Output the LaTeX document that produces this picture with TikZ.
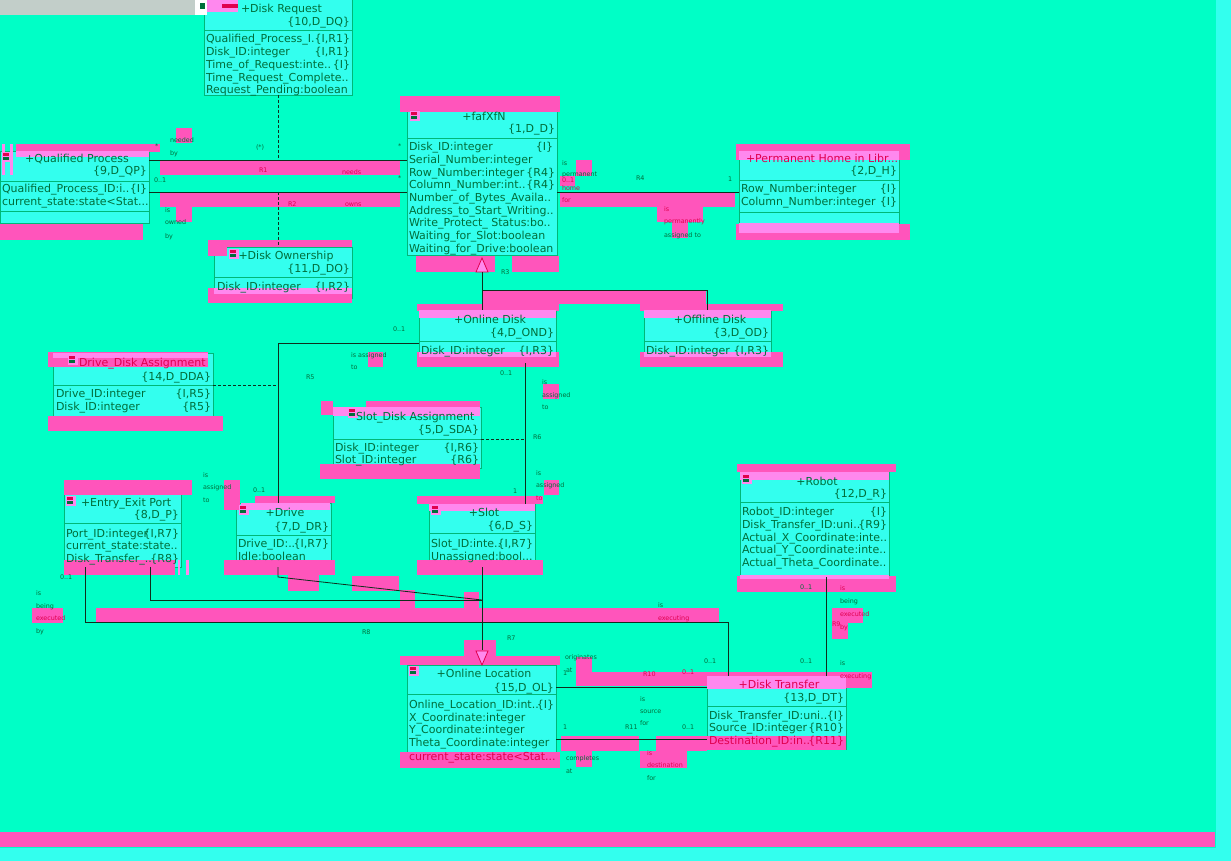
\documentclass[tikz,border=0pt]{standalone}
\usepackage{fontspec}
\setmainfont{DejaVu Sans}
\usetikzlibrary{calc}
\definecolor{bg}{HTML}{00FFC6}
\definecolor{cy}{HTML}{33FFEE}
\definecolor{pk}{HTML}{FF55BB}
\definecolor{lp}{HTML}{FF88EE}
\definecolor{tc}{HTML}{006E3A}
\definecolor{rd}{HTML}{E0004E}
\definecolor{bd}{HTML}{00B877}
\definecolor{ln}{HTML}{0F2E1C}
\definecolor{gr}{HTML}{C2CEC9}
\newcounter{lblc}
\tikzset{
 boxst/.style={draw=bd, fill=cy, line width=0.8pt, inner sep=0pt, outer sep=0pt, anchor=north west},
 sepst/.style={draw=bd, line width=0.8pt},
 attr/.style={inner sep=0pt, outer sep=0pt, text=tc, font=\fontsize{11}{13}\selectfont},
 small/.style={inner sep=0pt, outer sep=0pt, text=tc, font=\fontsize{6.4}{7}\selectfont, anchor=base west},
 conn/.style={draw=ln, line width=0.8pt},
 dsh/.style={draw=ln, line width=0.8pt, dash pattern=on 3pt off 2pt},
 tri/.style={draw=rd, fill=lp, line width=0.8pt},
}
\newcommand\pkr[4]{\fill[pk] (#1,#2) rectangle (#3,#4);}
\newcommand\lpr[4]{\fill[lp] (#1,#2) rectangle (#3,#4);}
\newcommand\umlbox[5]{\node[boxst, minimum width={#4-#2}, minimum height={#5-#3}] (#1) at (#2,#3) {};}
\newcommand\sepl[3]{\draw[sepst] (#1,#3) -- (#2,#3);}
\newcommand\txl[4][tc]{\stepcounter{lblc}\node[attr, anchor=base west, text=#1] (t\arabic{lblc}) at (#2,#3+4) {#4};}
\newcommand\txr[4][tc]{\stepcounter{lblc}\node[attr, anchor=base east, text=#1] (t\arabic{lblc}) at (#2,#3+4) {#4};}
\newcommand\txc[4][tc]{\stepcounter{lblc}\node[attr, anchor=base, text=#1] (t\arabic{lblc}) at (#2,#3+4) {#4};}
\newcommand\tsm[4][tc]{\stepcounter{lblc}\node[small, text=#1] (s\arabic{lblc}) at (#2,#3+2.5) {#4};}
\newcommand\icn[2]{\fill[lp] (#1,#2) rectangle ++(10,10); \fill[rd] (#1+1,#2+1) rectangle ++(6,3); \fill[tc] (#1+1,#2+5) rectangle ++(6,3);}
\begin{document}
\begin{tikzpicture}[x=1pt,y=-1pt]
\useasboundingbox (0,0) rectangle (1231,861);
% background
\fill[cy] (0,0) rectangle (1231,861);
\fill[bg] (0,0) rectangle (1216,848);
\fill[pk] (0,832) rectangle (1215,847);
\fill[gr] (0,0) rectangle (195,15);
% boxes
\umlbox{dq}{204}{-2}{352}{95}
\umlbox{qp}{0}{151}{149}{223}
\umlbox{dk}{407}{107}{557}{255}
\umlbox{ph}{739}{151}{899}{234}
\umlbox{dow}{214}{247}{352}{298}
\umlbox{ond}{419}{310}{556}{363}
\umlbox{ofd}{644}{310}{771}{363}
\umlbox{dda}{53}{353}{213}{416}
\umlbox{sda}{333}{407}{481}{468}
\umlbox{eep}{64}{493}{181}{567}
\umlbox{drv}{236}{503}{331}{567}
\umlbox{slt}{429}{504}{535}{567}
\umlbox{rob}{740}{472}{889}{577}
\umlbox{ol}{407}{665}{556}{763}
\umlbox{dt}{707}{676}{846}{749}
% separators
\sepl{204}{352}{30}
\sepl{0}{149}{181}\sepl{0}{149}{211}
\sepl{407}{557}{138}
\sepl{739}{899}{180}\sepl{739}{899}{212}
\sepl{214}{352}{277}
\sepl{419}{556}{341}
\sepl{644}{771}{341}
\sepl{53}{213}{385}
\sepl{333}{481}{439}
\sepl{64}{181}{523}
\sepl{236}{331}{535}
\sepl{429}{535}{533}
\sepl{740}{889}{502}
\sepl{407}{556}{694}
\sepl{707}{846}{706}
% pink artefacts
\pkr{16}{144}{160}{152}\lpr{16}{151}{149}{157}
\lpr{2}{144}{5}{175}\lpr{10}{144}{13}{175}
\pkr{0}{224}{143}{240}
\pkr{176}{128}{192}{143}
\pkr{160}{161}{400}{175}
\pkr{160}{193}{400}{207}
\pkr{176}{207}{192}{222}
\pkr{400}{96}{560}{112}
\pkr{416}{256}{495}{272}\pkr{512}{256}{559}{272}
\pkr{208}{240}{352}{247}\pkr{208}{247}{227}{256}
\pkr{208}{288}{352}{303}\lpr{214}{288}{352}{294}
\pkr{736}{144}{910}{160}\lpr{739}{151}{899}{160}
\pkr{736}{224}{910}{240}\lpr{739}{223}{899}{233}
\pkr{560}{193}{735}{207}\pkr{657}{207}{703}{222}\pkr{672}{222}{688}{238}
\pkr{576}{160}{592}{176}\pkr{560}{176}{575}{186}
\pkr{482}{290}{706}{304}
\pkr{417}{304}{559}{311}\lpr{419}{310}{556}{318}
\pkr{417}{352}{559}{367}\lpr{419}{352}{556}{357}
\pkr{640}{304}{783}{311}\lpr{644}{310}{771}{318}
\pkr{640}{352}{783}{367}\lpr{644}{352}{771}{357}
\pkr{368}{352}{383}{367}
\pkr{48}{352}{208}{367}\lpr{53}{353}{208}{358}
\pkr{48}{416}{223}{431}
\pkr{543}{384}{559}{399}
\pkr{321}{401}{333}{415}\pkr{366}{401}{480}{407}\lpr{333}{407}{480}{416}
\pkr{320}{464}{480}{479}
\pkr{544}{480}{559}{495}
\pkr{64}{480}{192}{495}
\pkr{64}{560}{175}{575}\lpr{178}{560}{180}{575}\lpr{186}{560}{189}{575}
\pkr{255}{496}{335}{503}\lpr{241}{503}{330}{510}
\pkr{224}{480}{240}{510}
\pkr{224}{560}{335}{575}
\pkr{288}{575}{319}{591}\pkr{352}{576}{399}{591}
\pkr{417}{496}{543}{504}\lpr{429}{504}{535}{511}
\pkr{417}{560}{543}{575}
\pkr{400}{590}{415}{608}\pkr{464}{592}{479}{608}
\pkr{96}{608}{719}{622}
\pkr{32}{608}{63}{623}
\pkr{737}{464}{896}{472}\lpr{740}{472}{889}{480}
\pkr{737}{576}{896}{592}\lpr{740}{575}{889}{579}
\pkr{832}{608}{848}{639}\pkr{848}{608}{863}{623}
\pkr{840}{672}{872}{688}
\pkr{464}{640}{496}{656}
\pkr{400}{656}{560}{665}
\pkr{400}{752}{560}{768}
\pkr{576}{657}{592}{672}\pkr{576}{672}{710}{686}
\pkr{707}{672}{863}{688}\lpr{707}{676}{846}{689}
\pkr{707}{736}{846}{750}
\pkr{561}{736}{639}{751}\pkr{656}{736}{707}{751}
\pkr{640}{751}{687}{768}\pkr{576}{751}{592}{767}
% icons
\fill[white] (195,0) rectangle (207,15);
\fill[lp] (207,0) rectangle (238,12);
\fill[rd] (222,4) rectangle (238,8);
\fill[tc] (200,3) rectangle (205,9);
\icn{2}{152}\icn{410}{111}\icn{229}{249}\icn{68}{355}\icn{348}{408}
\icn{66}{496}\icn{239}{505}\icn{431}{505}\icn{742}{474}\icn{409}{666}
% connectors
\draw[conn] (qp.east |- 0,160) -- (dk.west |- 0,160);
\draw[dsh] (dq.south) -- (dq.south |- 0,160);
\draw[conn] (qp.east |- 0,192) -- (dk.west |- 0,192);
\draw[dsh] (dq.south |- 0,192) -- (dq.south |- dow.north);
\draw[conn] (dk.east |- 0,192) -- (ph.west |- 0,192);
\draw[tri] ([yshift=-3pt]dk.south) -- ++(-6,14) -- ++(12,0) -- cycle;
\draw[conn] ([yshift=-17pt]dk.south) |- (ofd.north |- 0,290) -- (ofd.north);
\draw[conn] (dk.south |- 0,290) -- (dk.south |- ond.north);
\draw[conn] (ond.west |- 0,343) -| (278,0 |- drv.north);
\draw[dsh] (dda.east |- 0,385) -- (278,385);
\draw[conn] (525,0 |- ond.south) -- (525,0 |- slt.north);
\draw[dsh] (sda.east |- 0,439) -- (525,439);
\draw[conn] (482,0 |- slt.south) -- (482,650);
\draw[tri] (482,0 |- ol.north) -- ++(-6,-14) -- ++(12,0) -- cycle;
\draw[conn] (278,0 |- drv.south) -- (278,577) -- (482,600);
\draw[conn] (150,0 |- eep.south) |- (482,600);
\draw[conn] (85,0 |- eep.south) |- (728,622) -- (728,0 |- dt.north);
\draw[conn] (826,0 |- rob.south) -- (826,0 |- dt.north);
\draw[conn] (ol.east |- 0,687) -- (dt.west |- 0,687);
\draw[conn] (ol.east |- 0,739) -- (dt.west |- 0,739);
% Disk Request
\txl{241}{9}{+Disk Request}
\txr{350}{21.5}{\{10,D\_DQ\}}
\txl{206}{39}{Qualified\_Process\_I.}\txr{350}{39}{\{I,R1\}}
\txl{206}{52}{Disk\_ID:integer}\txr{350}{52}{\{I,R1\}}
\txl{206}{65}{Time\_of\_Request:inte..}\txr{350}{65}{\{I\}}
\txl{206}{78}{Time\_Request\_Complete..}
\txl{206}{90}{Request\_Pending:boolean}
% Qualified Process
\txc{77}{159}{+Qualified Process}
\txr{147}{171}{\{9,D\_QP\}}
\txl{2}{189}{Qualified\_Process\_ID:i..}\txr{147}{189}{\{I\}}
\txl{2}{202}{current\_state:state<Stat...}
% Disk
\txc{484}{117}{+fafXfN}
\txr{555}{129}{\{1,D\_D\}}
\txl{409}{147}{Disk\_ID:integer}\txr{553}{147}{\{I\}}
\txl{409}{159.6}{Serial\_Number:integer}
\txl{409}{172.3}{Row\_Number:integer}\txr{555}{172.3}{\{R4\}}
\txl{409}{184.9}{Column\_Number:int..}\txr{555}{184.9}{\{R4\}}
\txl{409}{197.6}{Number\_of\_Bytes\_Availa..}
\txl{409}{210.2}{Address\_to\_Start\_Writing..}
\txl{409}{222.9}{Write\_Protect\_ Status:bo..}
\txl{409}{235.5}{Waiting\_for\_Slot:boolean}
\txl{409}{248.2}{Waiting\_for\_Drive:boolean}
% Permanent Home
\txl[rd]{746}{159}{+Permanent Home in Libr...}
\txr{897}{171}{\{2,D\_H\}}
\txl{741}{189}{Row\_Number:integer}\txr{897}{189}{\{I\}}
\txl{741}{202}{Column\_Number:integer}\txr{897}{202}{\{I\}}
% Disk Ownership
\txc{286}{255}{+Disk Ownership}
\txr{350}{268}{\{11,D\_DO\}}
\txl{217}{286}{Disk\_ID:integer}\txr{350}{286}{\{I,R2\}}
% Online / Offline Disk
\txc{490}{319}{+Online Disk}
\txr{554}{332}{\{4,D\_OND\}}
\txl{421}{350}{Disk\_ID:integer}\txr{554}{350}{\{I,R3\}}
\txc{710}{319}{+Offline Disk}
\txr{769}{332}{\{3,D\_OD\}}
\txl{646}{350}{Disk\_ID:integer}\txr{769}{350}{\{I,R3\}}
% Drive Disk Assignment
\txl[rd]{79}{362}{Drive\_Disk Assignment}
\txr{211}{376}{\{14,D\_DDA\}}
\txl{56}{393}{Drive\_ID:integer}\txr{211}{393}{\{I,R5\}}
\txl{56}{406}{Disk\_ID:integer}\txr{211}{406}{\{R5\}}
% Slot Disk Assignment
\txl{356}{416}{Slot\_Disk Assignment}
\txr{479}{429}{\{5,D\_SDA\}}
\txl{335}{447}{Disk\_ID:integer}\txr{479}{447}{\{I,R6\}}
\txl{335}{459}{Slot\_ID:integer}\txr{479}{459}{\{R6\}}
% Entry Exit Port
\txl{81}{502}{+Entry\_Exit Port}
\txr{179}{514}{\{8,D\_P\}}
\txl{66}{533}{Port\_ID:integer}\txr{179}{533}{\{I,R7\}}
\txl{66}{545}{current\_state:state..}
\txl{66}{558}{Disk\_Transfer\_..}\txr{179}{558}{\{R8\}}
% Drive
\txc{285}{512}{+Drive}
\txr{329}{526}{\{7,D\_DR\}}
\txl{238}{543}{Drive\_ID:..}\txr{329}{543}{\{I,R7\}}
\txl{238}{556}{Idle:boolean}
% Slot
\txc{484}{512}{+Slot}
\txr{533}{525}{\{6,D\_S\}}
\txl{431}{543}{Slot\_ID:inte..}\txr{533}{543}{\{I,R7\}}
\txl{431}{556}{Unassigned:bool...}
% Robot
\txc{817}{481}{+Robot}
\txr{887}{493}{\{12,D\_R\}}
\txl{742}{511}{Robot\_ID:integer}\txr{887}{511}{\{I\}}
\txl{742}{524}{Disk\_Transfer\_ID:uni..}\txr{887}{524}{\{R9\}}
\txl{742}{537}{Actual\_X\_Coordinate:inte..}
\txl{742}{549}{Actual\_Y\_Coordinate:inte..}
\txl{742}{562}{Actual\_Theta\_Coordinate..}
% Online Location
\txc{484}{673}{+Online Location}
\txr{554}{687}{\{15,D\_OL\}}
\txl{409}{704}{Online\_Location\_ID:int..}\txr{554}{704}{\{I\}}
\txl{409}{717}{X\_Coordinate:integer}
\txl{409}{729}{Y\_Coordinate:integer}
\txl{409}{742}{Theta\_Coordinate:integer}
\txl[rd]{409}{756}{current\_state:state<Stat...}
% Disk Transfer
\txc[rd]{779}{684}{+Disk Transfer}
\txr{844}{697}{\{13,D\_DT\}}
\txl{709}{715}{Disk\_Transfer\_ID:uni..}\txr{844}{715}{\{I\}}
\txl{709}{727}{Source\_ID:integer}\txr{844}{727}{\{R10\}}
\txl[rd]{709}{740}{Destination\_ID:in..}\txr[rd]{844}{740}{\{R11\}}
% relation labels
\tsm{155}{146}{*}\tsm{170}{140}{needed}\tsm{170}{153}{by}
\tsm{256}{147}{(*)}\tsm{398}{146}{*}
\tsm[rd]{259}{170}{R1}\tsm[rd]{342}{172}{needs}
\tsm{154}{180}{0..1}\tsm{398}{178}{*}
\tsm[rd]{288}{204}{R2}\tsm[rd]{345}{204}{owns}
\tsm{165}{210}{is}\tsm{165}{222}{owned}\tsm{165}{236}{by}
\tsm{562}{163}{is}\tsm{562}{174}{permanent}\tsm[rd]{562}{180}{0..1}
\tsm[rd]{562}{188}{home}\tsm[rd]{562}{200}{for}
\tsm{636}{178}{R4}\tsm{728}{179}{1}
\tsm[rd]{664}{209}{is}\tsm[rd]{664}{221}{permanently}\tsm{664}{235}{assigned to}
\tsm{501}{272}{R3}
\tsm{393}{329}{0..1}\tsm{351}{355}{is assigned}\tsm{351}{367}{to}
\tsm{306}{377}{R5}\tsm{253}{490}{0..1}
\tsm{203}{475}{is}\tsm{203}{487}{assigned}\tsm{203}{500}{to}
\tsm{500}{373}{0..1}\tsm{542}{382}{is}\tsm{542}{395}{assigned}\tsm{542}{407}{to}
\tsm{533}{437}{R6}\tsm{513}{491}{1}
\tsm{536}{473}{is}\tsm{536}{485}{assigned}\tsm[rd]{536}{498}{to}
\tsm{507}{638}{R7}
\tsm{60}{577}{0..1}\tsm{36}{593}{is}\tsm{36}{606}{being}\tsm[rd]{36}{618}{executed}\tsm{36}{631}{by}
\tsm{362}{632}{R8}\tsm{658}{605}{is}\tsm[rd]{658}{618}{executing}\tsm{704}{661}{0..1}
\tsm{800}{587}{0..1}\tsm[rd]{840}{588}{is}\tsm{840}{601}{being}\tsm[rd]{840}{614}{executed}\tsm[rd]{840}{627}{by}
\tsm[rd]{832}{624}{R9}\tsm{800}{661}{0..1}\tsm{840}{663}{is}\tsm[rd]{840}{676}{executing}
\tsm{565}{657}{originates}\tsm{563}{673}{1}\tsm{566}{670}{at}
\tsm[rd]{643}{674}{R10}\tsm[rd]{682}{672}{0..1}
\tsm{640}{699}{is}\tsm{640}{711}{source}\tsm{640}{723}{for}
\tsm{563}{727}{1}\tsm{625}{727}{R11}\tsm{682}{727}{0..1}
\tsm{566}{758}{completes}\tsm{566}{771}{at}
\tsm[rd]{647}{753}{is}\tsm[rd]{647}{765}{destination}\tsm{647}{778}{for}
\end{tikzpicture}
\end{document}
